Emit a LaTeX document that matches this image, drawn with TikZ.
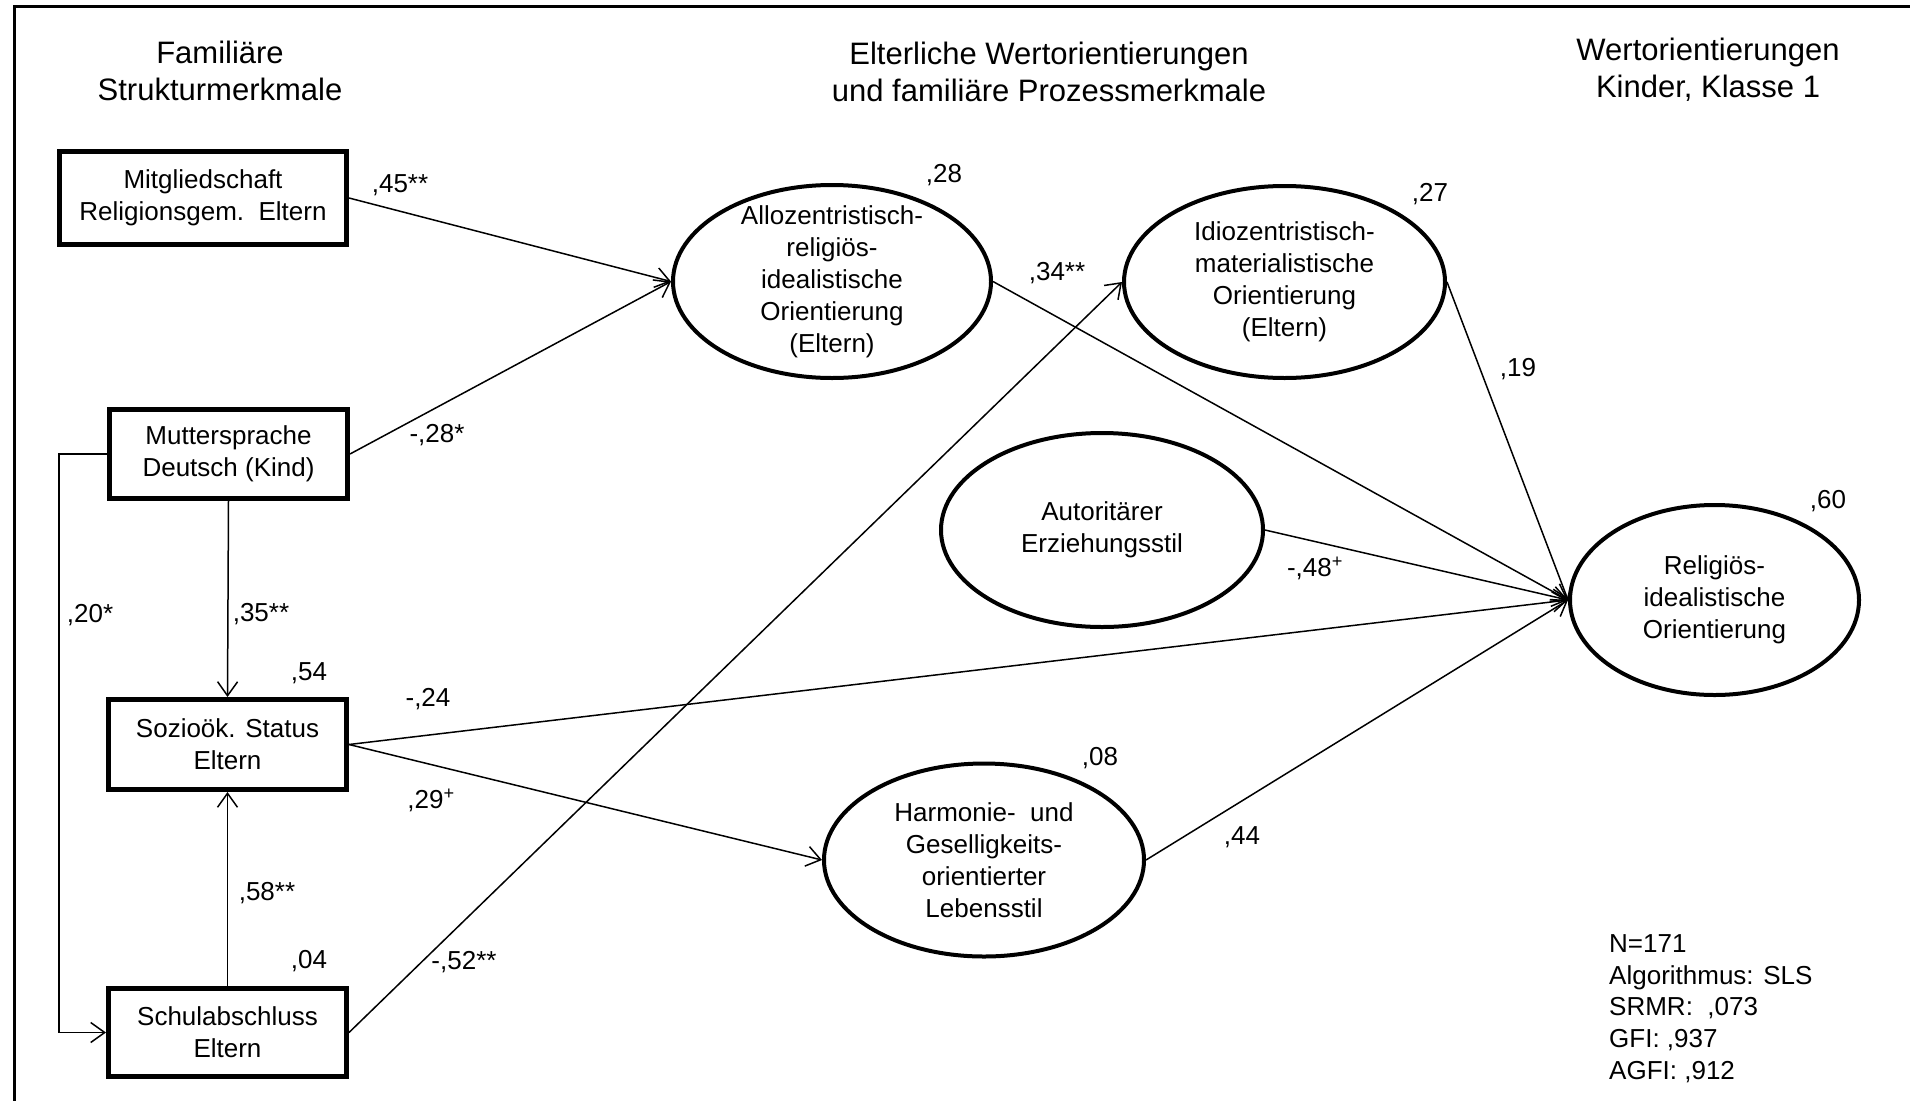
\documentclass[tikz,border=0pt]{standalone}
\usepackage{fontspec}
\setmainfont{Liberation Sans}
\usetikzlibrary{shapes.geometric,arrows.meta}
\begin{document}
\begin{tikzpicture}[x=1pt,y=-1pt,
  every node/.style={inner sep=0pt},
  var/.style={draw, line width=5pt, rectangle, align=center,
              font=\fontsize{26}{32}\selectfont},
  lat/.style={draw, line width=4pt, ellipse},
  lattext/.style={align=center, font=\fontsize{26}{32}\selectfont},
  coef/.style={font=\fontsize{26}{30}\selectfont},
  head/.style={align=center, font=\fontsize{31}{37}\selectfont},
  effect/.style={line width=1.5pt,
    -{Straight Barb[length=14pt,width=20pt,line width=1.5pt]}},
]
\useasboundingbox (0,0) rectangle (1910,1100);

% frame (only top and left edges lie inside the page)
\draw[line width=3pt] (14,1110) -- (14,6) -- (1920,6);

% column headings
\node[head] (t1) at (220,71) {Familiäre\\Strukturmerkmale};
\node[head] (t2) at (1049,72) {Elterliche Wertorientierungen\\und familiäre Prozessmerkmale};
\node[head] (t3) at (1708,70) {Wertorientierungen\\Kinder, Klasse 1};

% observed variables
\node[var, minimum width=287pt, minimum height=93pt] (b1) at (203,198)
  {Mitgliedschaft\\Religionsgem.\ \ Eltern};
\node[var, minimum width=238pt, minimum height=89pt] (b2) at (228.5,454)
  {Muttersprache\\Deutsch (Kind)};
\node[var, minimum width=238pt, minimum height=90pt] (b3) at (227.5,744.5)
  {Sozioök. Status\\Eltern};
\node[var, minimum width=238pt, minimum height=88pt] (b4) at (227.5,1032.5)
  {Schulabschluss\\Eltern};

% latent variables
\node[lat, minimum width=318pt, minimum height=193pt] (e1) at (832,281.5) {};
\node[lat, minimum width=321pt, minimum height=192pt] (e2) at (1284.5,282) {};
\node[lat, minimum width=322pt, minimum height=194pt] (e3) at (1102,530) {};
\node[lat, minimum width=320pt, minimum height=193pt] (e4) at (984,860) {};
\node[lat, minimum width=289pt, minimum height=190pt] (e5) at (1714.5,600) {};

\node[lattext] (e1t) at (e1) {Allozentristisch-\\religiös-\\idealistische\\Orientierung\\(Eltern)};
\node[lattext] (e2t) at (e2) {Idiozentristisch-\\materialistische\\Orientierung\\(Eltern)};
\node[lattext] (e3t) at (e3) {Autoritärer\\Erziehungsstil};
\node[lattext] (e4t) at (e4) {Harmonie-\ \ und\\Geselligkeits-\\orientierter\\Lebensstil};
\node[lattext] (e5t) at (e5) {Religiös-\\idealistische\\Orientierung};

% paths
\draw[effect] (b1.east) -- (e1.west);
\draw[effect] (b2.east) -- (e1.west);
\draw[effect] (b2.south) -- (b3.north);
\draw[effect] (b4.north) -- (b3.south);
\draw[effect] (b2.west) -- ++(-48,0) |- (b4.west);
\draw[effect] (b3.east) -- (e5.west);
\draw[effect] (b3.east) -- (e4.west);
\draw[effect] (b4.east) -- (e2.west);
\draw[effect] (e1.east) -- (e5.west);
\draw[effect] (e2.east) -- (e5.west);
\draw[effect] (e3.east) -- (e5.west);
\draw[effect] (e4.east) -- (e5.west);

% path coefficients and explained variances
\node[coef] (c45) at (400,185) {,45**};
\node[coef] (c28n) at (437,435) {-,28*};
\node[coef] (c20) at (90,615) {,20*};
\node[coef] (c35) at (261,614) {,35**};
\node[coef] (r54) at (309,673) {,54};
\node[coef] (c24) at (428,699) {-,24};
\node[coef] (c29) at (431,800) {,29\textsuperscript{+}};
\node[coef] (c58) at (267,893) {,58**};
\node[coef] (r04) at (309,961) {,04};
\node[coef] (c52) at (464,962) {-,52**};
\node[coef] (r28) at (944,175) {,28};
\node[coef] (c34) at (1057,273) {,34**};
\node[coef] (r27) at (1430,194) {,27};
\node[coef] (c19) at (1518,369) {,19};
\node[coef] (r60) at (1828,501) {,60};
\node[coef] (c48) at (1315,568) {-,48\textsuperscript{+}};
\node[coef] (r08) at (1100,758) {,08};
\node[coef] (c44) at (1242,837) {,44};

% model fit
\node[align=left, anchor=west, font=\fontsize{26}{31.7}\selectfont] (fit) at (1609,1008.5)
  {N=171\\Algorithmus: SLS\\SRMR:\ \ ,073\\GFI: ,937\\AGFI: ,912};
\end{tikzpicture}
\end{document}
